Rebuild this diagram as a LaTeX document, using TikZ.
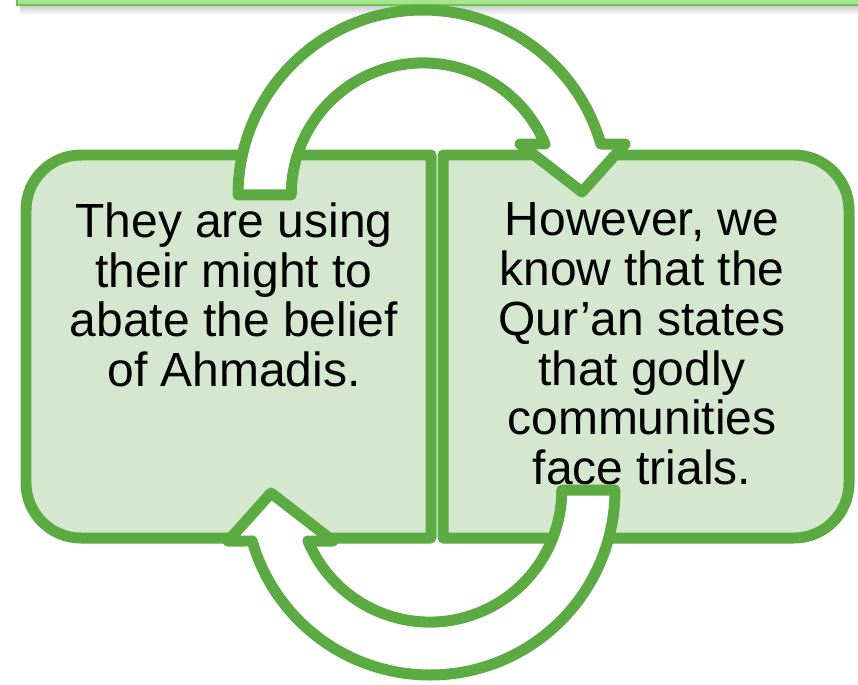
\documentclass[tikz,border=0pt]{standalone}
\usepackage{fontspec}
\setmainfont{Liberation Sans}

\definecolor{cycgreen}{HTML}{5BAA42}
\definecolor{cycfill}{HTML}{D5E8CF}
\definecolor{barfill}{HTML}{A6E58E}
\definecolor{barline}{HTML}{6CC64F}

\tikzset{
	panel/.style={draw=cycgreen, fill=cycfill, line width=0.22cm, line join=round},
	turn/.style={draw=cycgreen, fill=white, line width=0.22cm, line join=round},
	says/.style={font=\fontsize{27.3pt}{28.4pt}\selectfont, align=center, anchor=north, inner sep=0pt}
}

\begin{document}
\begin{tikzpicture}[x=0.02cm, y=0.02cm]
			\useasboundingbox (0, 0) rectangle (858, 684);

			% bar along the top edge
			\shade[top color=black!22, bottom color=white]	(20, 669) rectangle (870, 679);
			\draw[barline, fill=barfill, line width=0.05cm]	(17, 679) rectangle (870, 700);

			\draw[panel]		(431, 529) -- (81, 529) arc[start angle=90, end angle=180, radius=55]
								-- (26, 201) arc[start angle=180, end angle=270, radius=55]
								-- (431, 146) -- cycle;
			\draw[panel]		(443, 529) -- (794, 529) arc[start angle=90, end angle=0, radius=55]
								-- (849, 201) arc[start angle=0, end angle=-90, radius=55]
								-- (443, 146) -- cycle;

			\node[says] (cause) at (234, 482) {They are using\\their might to\\abate the belief\\of Ahmadis.};
			\node[says] (answer) at (642, 482) {However, we\\know that the\\Qur’an states\\that godly\\communities\\face trials.};

			% the lower arrow is the upper one turned half way round
			\foreach \turnangle in {0, 180} {
				\begin{scope}[rotate around={\turnangle:(426.5, 341.5)}]
					\draw[turn]	(423, 489) ++(180:185) arc[start angle=180, end angle=16, radius=185]
								-- (625, 540) -- (582, 492) -- (520, 540) -- (545, 540)
								arc[start angle=22.7, end angle=180, radius=132] -- cycle;
				\end{scope}
			}
		\end{tikzpicture}
\end{document}
